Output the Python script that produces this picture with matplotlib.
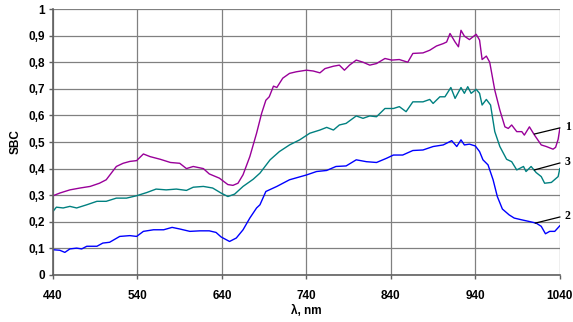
import matplotlib.pyplot as plt

# curve 1 (purple)
wl_1 = [440, 448, 460, 472, 484, 495, 503, 509, 515, 523, 531, 539, 547, 555, 567, 579, 590,
        598, 606, 618, 625, 637, 647, 653, 659, 665, 673, 681, 687, 692, 696, 701, 705, 712,
        720, 728, 740, 748, 756, 762, 772, 779, 785, 791, 799, 807, 815, 823, 833, 841, 850,
        860, 866, 878, 886, 894, 902, 906, 910, 916, 920, 923, 927, 933, 941, 945, 948, 953,
        957, 963, 969, 975, 979, 983, 989, 995, 998, 1004, 1010, 1018, 1024, 1032, 1035, 1038, 1040]
sbc_1 = [0.298, 0.308, 0.32, 0.327, 0.333, 0.345, 0.358, 0.383, 0.408, 0.42, 0.427, 0.43, 0.455,
         0.445, 0.435, 0.423, 0.42, 0.40, 0.408, 0.40, 0.38, 0.364, 0.34, 0.337, 0.345, 0.377,
         0.445, 0.533, 0.608, 0.657, 0.67, 0.71, 0.705, 0.74, 0.758, 0.764, 0.77, 0.767, 0.76,
         0.776, 0.785, 0.789, 0.77, 0.789, 0.808, 0.80, 0.789, 0.795, 0.814, 0.808, 0.81, 0.80,
         0.833, 0.835, 0.845, 0.861, 0.87, 0.876, 0.908, 0.876, 0.858, 0.92, 0.898, 0.885, 0.905,
         0.883, 0.81, 0.823, 0.80, 0.695, 0.62, 0.557, 0.551, 0.564, 0.539, 0.539, 0.526, 0.557,
         0.526, 0.489, 0.483, 0.473, 0.48, 0.51, 0.55]

# curve 3 (teal)
wl_3 = [440, 444, 452, 460, 468, 480, 492, 503, 515, 527, 539, 551, 562, 574, 586, 598, 606,
        618, 629, 639, 647, 655, 665, 677, 685, 697, 708, 720, 732, 744, 756, 764, 772, 779,
        787, 799, 807, 815, 823, 833, 843, 850, 858, 866, 878, 886, 890, 898, 904, 911, 916,
        923, 927, 931, 935, 941, 945, 948, 953, 958, 963, 969, 977, 983, 989, 997, 1000, 1006,
        1012, 1018, 1022, 1030, 1038, 1040]
sbc_3 = [0.239, 0.255, 0.252, 0.258, 0.252, 0.264, 0.277, 0.277, 0.289, 0.289, 0.298, 0.31,
         0.323, 0.32, 0.323, 0.318, 0.33, 0.333, 0.327, 0.308, 0.295, 0.304, 0.333, 0.36, 0.383,
         0.433, 0.464, 0.489, 0.508, 0.533, 0.545, 0.555, 0.545, 0.564, 0.57, 0.598, 0.589,
         0.598, 0.595, 0.626, 0.626, 0.633, 0.614, 0.651, 0.651, 0.66, 0.645, 0.67, 0.67, 0.705,
         0.664, 0.705, 0.683, 0.708, 0.683, 0.698, 0.683, 0.639, 0.66, 0.639, 0.539, 0.483,
         0.435, 0.426, 0.395, 0.408, 0.389, 0.408, 0.385, 0.37, 0.345, 0.348, 0.37, 0.40]

# curve 2 (blue)
wl_2 = [440, 448, 454, 460, 468, 474, 480, 492, 499, 507, 519, 531, 539, 547, 559, 571, 581,
        590, 602, 614, 625, 633, 639, 649, 657, 665, 673, 681, 685, 692, 705, 720, 740, 752,
        764, 775, 787, 799, 811, 823, 835, 843, 854, 866, 878, 890, 902, 912, 918, 923, 927,
        933, 940, 945, 949, 955, 961, 966, 972, 980, 986, 994, 1004, 1012, 1018, 1023, 1028,
        1034, 1040]
sbc_2 = [0.095, 0.093, 0.085, 0.098, 0.101, 0.098, 0.108, 0.108, 0.12, 0.123, 0.145, 0.148,
         0.145, 0.164, 0.17, 0.17, 0.179, 0.173, 0.164, 0.166, 0.166, 0.16, 0.143, 0.126, 0.139,
         0.17, 0.214, 0.252, 0.264, 0.314, 0.333, 0.358, 0.376, 0.389, 0.393, 0.408, 0.41,
         0.433, 0.426, 0.423, 0.439, 0.451, 0.451, 0.468, 0.47, 0.483, 0.489, 0.505, 0.483,
         0.508, 0.489, 0.492, 0.485, 0.464, 0.433, 0.414, 0.358, 0.295, 0.248, 0.226, 0.214,
         0.208, 0.201, 0.195, 0.183, 0.155, 0.164, 0.164, 0.185]

# right-hand curve labels: text, leader start (x, y), leader end (x, y)
label_text = ["1", "3", "2"]
leader_from = [(1010, 0.53), (1010, 0.395), (1011, 0.195)]
leader_to = [(1040, 0.553), (1040, 0.421), (1040, 0.218)]

x_ticks = [440, 540, 640, 740, 840, 940, 1040]
y_ticks = [0, 0.1, 0.2, 0.3, 0.4, 0.5, 0.6, 0.7, 0.8, 0.9, 1]
y_tick_labels = ["0", "0,1", "0,2", "0,3", "0,4", "0,5", "0,6", "0,7", "0,8", "0,9", "1"]

plt.rcParams['font.family'] = ['Liberation Sans', 'DejaVu Sans']

fig = plt.figure(figsize=(5.73, 3.22), dpi=100)
ax = fig.add_axes([0.0925, 0.146, 0.8845, 0.826])

ax.plot(wl_1, sbc_1, color="#990099", lw=1)
ax.plot(wl_3, sbc_3, color="#008080", lw=1)
ax.plot(wl_2, sbc_2, color="#0000ff", lw=1)

for txt, p0, p1 in zip(label_text, leader_from, leader_to):
    ax.plot([p0[0], p1[0]], [p0[1], p1[1]], color="black", lw=0.9, clip_on=False)
    ax.text(p1[0] + 6, p1[1] + 0.003, txt, fontsize=8.5, fontweight="bold",
            family="Liberation Serif", va="center", ha="left")

ax.set_xlim(440, 1040)
ax.set_ylim(0, 1)
ax.set_xticks(x_ticks)
ax.set_yticks(y_ticks)
ax.set_yticklabels(y_tick_labels)
ax.grid(True, color="#808080", lw=0.9)
ax.set_axisbelow(True)
for s in ["top", "right"]:
    ax.spines[s].set_visible(False)
for s in ["left", "bottom"]:
    ax.spines[s].set_color("#606060")
    ax.spines[s].set_linewidth(1.2)
ax.tick_params(direction="out", length=3, width=1, color="#606060",
               labelsize=8.5, pad=3)
for lab in ax.get_xticklabels() + ax.get_yticklabels():
    lab.set_fontweight("bold")
ax.tick_params(axis="x", pad=8)

ax.set_xlabel("λ, nm", fontsize=8.5, fontweight="bold", labelpad=2)
ax.set_ylabel("SBC", fontsize=8.5, fontweight="bold")
ax.yaxis.set_label_coords(-0.061, 0.5)

fig.savefig("out.png", dpi=100)
